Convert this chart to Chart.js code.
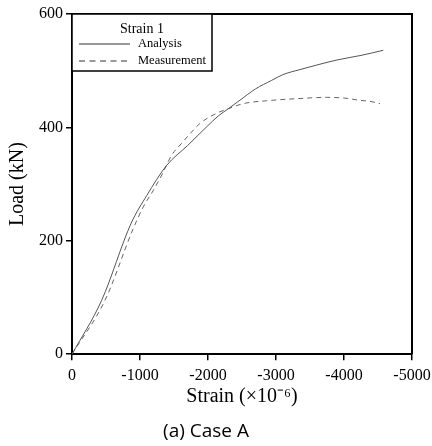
<!DOCTYPE html>
<html>
<head>
<meta charset="utf-8">
<script src="https://cdn.jsdelivr.net/npm/chart.js@4"></script>
<style>
  html, body { margin: 0; padding: 0; background: #fff; }
  #wrap { width: 432px; height: 446px; }
</style>
</head>
<body>
<div id="wrap"><canvas id="loadChart" width="432" height="446"></canvas></div>
<script>
// Strain (x10^-6) and load (kN)
const analysisStrain = [0, -436, -870, -1100, -1392, -1700, -1980, -2150, -2299, -2470, -2700, -2937, -3100, -3353, -3600, -3900, -4250, -4578];
const analysisLoad   = [0, 95, 231, 280, 333, 368, 401, 420, 433, 448, 468, 483, 493, 502, 510, 519, 527, 536];

const measureStrain = [0, -485, -892, -1049, -1196, -1320, -1466, -1613, -1760, -1882, -2128, -2299, -2520, -2863, -3353, -3745, -4064, -4210, -4382, -4529];
const measureLoad   = [0, 95, 219, 260, 289, 316, 351, 372, 392, 407, 425, 433, 442, 447, 451, 453, 451, 448, 446, 442];

const xTicks = [0, -1000, -2000, -3000, -4000, -5000];
const yTicks = [0, 200, 400, 600];

const serif = "'Liberation Serif', 'Times New Roman', serif";

function toPoints(xs, ys) {
    return xs.map((x, i) => ({ x: x, y: ys[i] }));
}

// frame around plot + legend box in the top-left corner
const frameAndLegend = {
    id: 'frameAndLegend',
    afterDraw(chart) {
        const ctx = chart.ctx;
        const a = chart.chartArea;
        ctx.save();
        ctx.strokeStyle = '#000';
        ctx.lineWidth = 2;
        ctx.beginPath();
        ctx.moveTo(a.left, a.top);
        ctx.lineTo(a.right, a.top);
        ctx.lineTo(a.right, a.bottom);
        ctx.stroke();

        // legend
        const bx = a.left, by = a.top, bw = 140, bh = 57;
        ctx.fillStyle = '#fff';
        ctx.fillRect(bx, by, bw, bh);
        ctx.lineWidth = 1.5;
        ctx.strokeRect(bx, by, bw, bh);

        ctx.fillStyle = '#000';
        ctx.textBaseline = 'middle';
        ctx.textAlign = 'center';
        ctx.font = '14px ' + serif;
        ctx.fillText('Strain 1', bx + 70, by + 15);

        ctx.textAlign = 'left';
        ctx.font = '12.5px ' + serif;
        ctx.lineWidth = 1;
        ctx.strokeStyle = '#333';
        ctx.beginPath();
        ctx.moveTo(bx + 7, by + 30);
        ctx.lineTo(bx + 58, by + 30);
        ctx.stroke();
        ctx.fillText('Analysis', bx + 66, by + 30);

        ctx.setLineDash([6, 4.5]);
        ctx.beginPath();
        ctx.moveTo(bx + 7, by + 47);
        ctx.lineTo(bx + 58, by + 47);
        ctx.stroke();
        ctx.setLineDash([]);
        ctx.fillText('Measurement', bx + 66, by + 47);
        ctx.restore();
    }
};

const ctx = document.getElementById('loadChart').getContext('2d');
const loadChart = new Chart(ctx, {
    type: 'line',
    data: {
        datasets: [
            {
                label: 'Analysis',
                data: toPoints(analysisStrain, analysisLoad),
                borderColor: '#555',
                borderWidth: 1,
                pointRadius: 0,
                cubicInterpolationMode: 'monotone',
                fill: false
            },
            {
                label: 'Measurement',
                data: toPoints(measureStrain, measureLoad),
                borderColor: '#666',
                borderWidth: 1,
                borderDash: [5, 4],
                pointRadius: 0,
                cubicInterpolationMode: 'monotone',
                fill: false
            }
        ]
    },
    options: {
        responsive: false,
        animation: false,
        layout: { padding: { top: 14, right: 20, left: 0, bottom: 0 } },
        plugins: {
            legend: { display: false },
            tooltip: { enabled: false },
            title: {
                display: true,
                position: 'bottom',
                text: '(a) Case A',
                color: '#000',
                font: { family: "'Open Sans', sans-serif", size: 19, weight: 'normal' },
                padding: { top: 10, bottom: 3 }
            }
        },
        scales: {
            x: {
                type: 'linear',
                reverse: true,
                min: -5000,
                max: 0,
                afterFit: scale => {
                    scale.height = 56;
                    scale.paddingLeft = 0;
                    scale.paddingRight = 0;
                },
                afterBuildTicks: scale => { scale.ticks = xTicks.map(v => ({ value: v })); },
                ticks: {
                    color: '#000',
                    font: { family: serif, size: 16 },
                    padding: 6,
                    maxRotation: 0,
                    callback: v => String(v)
                },
                grid: { drawOnChartArea: false, drawTicks: true, tickLength: 6, color: '#000', lineWidth: 1.5 },
                border: { display: true, color: '#000', width: 2 },
                title: {
                    display: true,
                    text: 'Strain (×10⁻⁶)',
                    color: '#000',
                    font: { family: serif, size: 20 },
                    padding: { top: 0, bottom: 1 }
                }
            },
            y: {
                min: 0,
                max: 600,
                afterFit: scale => { scale.width = 72; },
                afterBuildTicks: scale => { scale.ticks = yTicks.map(v => ({ value: v })); },
                ticks: {
                    color: '#000',
                    font: { family: serif, size: 16 },
                    padding: 3,
                    callback: v => String(v)
                },
                grid: { drawOnChartArea: false, drawTicks: true, tickLength: 6, color: '#000', lineWidth: 1.5 },
                border: { display: true, color: '#000', width: 2 },
                title: {
                    display: true,
                    text: 'Load (kN)',
                    color: '#000',
                    font: { family: serif, size: 20 },
                    padding: { top: 6, bottom: 0 }
                }
            }
        }
    },
    plugins: [frameAndLegend]
});
</script>
</body>
</html>
